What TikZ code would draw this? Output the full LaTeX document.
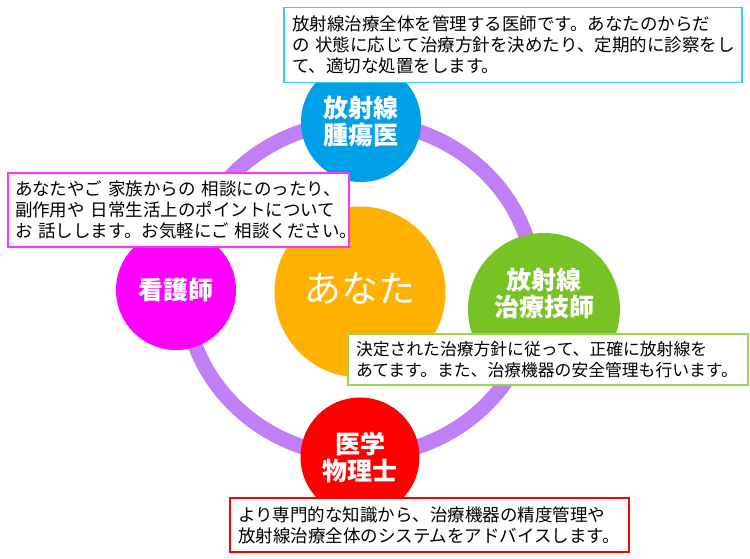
\documentclass[tikz,border=0pt]{standalone}
\usepackage{fontspec}
\setmainfont{Noto Sans CJK JP}
\usepackage{tikz}
\usetikzlibrary{positioning}

\definecolor{ringpurple}{RGB}{193,127,247}
\definecolor{youorange}{RGB}{255,177,0}
\definecolor{oncblue}{RGB}{0,160,233}
\definecolor{nursemag}{RGB}{255,0,255}
\definecolor{rttgreen}{RGB}{119,194,37}
\definecolor{physred}{RGB}{255,0,0}
\definecolor{edgeblue}{RGB}{51,204,255}
\definecolor{edgemag}{RGB}{255,51,255}
\definecolor{edgegreen}{RGB}{150,214,80}

\begin{document}
\begin{tikzpicture}[x=1pt, y=-1pt,
  role/.style={circle, inner sep=0pt, text=white, align=center,
    font=\fontsize{25}{27}\selectfont\bfseries},
  note/.style={draw, fill=white, line width=1.8pt, inner ysep=0pt,
    align=left, font=\fontsize{17.5}{21}\selectfont}]
  \useasboundingbox (0,0) rectangle (750,559);
  % ring behind the circles
  \coordinate (ring) at (360,289);
  \draw [ringpurple, line width=15pt] (ring) ellipse [x radius=175, y radius=167];

  % circles
  \node (you) at (360,292) [circle, fill=youorange, minimum size=171pt] {};
  \node at (360,289) [text=white, font=\fontsize{37}{40}\selectfont] {あなた};
  \node (onc) at (361,122) [role, fill=oncblue, minimum size=120pt] {放射線\\腫瘍医};
  \node (nurse) at (176,290) [role, fill=nursemag, minimum size=120pt] {看護師};
  \node (rtt) at (544,309) [role, fill=rttgreen, minimum size=152pt] {};
  \node (rtt-label) at (544,293) [role] {放射線\\治療技師};
  \node (phys) at (360,457) [role, fill=physred, minimum size=119pt] {医学\\物理士};

  % notes
  \node (onc-note) at (513,45) [note, draw=edgeblue, inner xsep=8pt,
    minimum width=458pt, minimum height=75pt, text width=442pt]
    {放射線治療全体を管理する医師です。あなたのからだ\\
     の~状態に応じて治療方針を決めたり、定期的に診察をし\\
     て、適切な処置をします。};
  \node (nurse-note) at (178.5,210) [note, draw=edgemag, inner xsep=7pt,
    minimum width=341pt, minimum height=74pt, text width=327pt]
    {あなたやご~家族からの~相談にのったり、\\
     副作用や~日常生活上のポイントについて\\
     お~話しします。お気軽にご~相談ください。};
  \node (rtt-note) at (548,359.5) [note, draw=edgegreen, inner xsep=8pt,
    minimum width=400pt, minimum height=51pt, text width=384pt,
    font=\fontsize{16.8}{21}\selectfont]
    {決定された治療方針に従って、正確に放射線を\\
     あてます。また、治療機器の安全管理も行います。};
  \node (phys-note) at (429.5,525) [note, draw=physred, inner xsep=8pt,
    minimum width=399pt, minimum height=54pt, text width=383pt]
    {より専門的な知識から、治療機器の精度管理や\\
     放射線治療全体のシステムをアドバイスします。};
\end{tikzpicture}
\end{document}
